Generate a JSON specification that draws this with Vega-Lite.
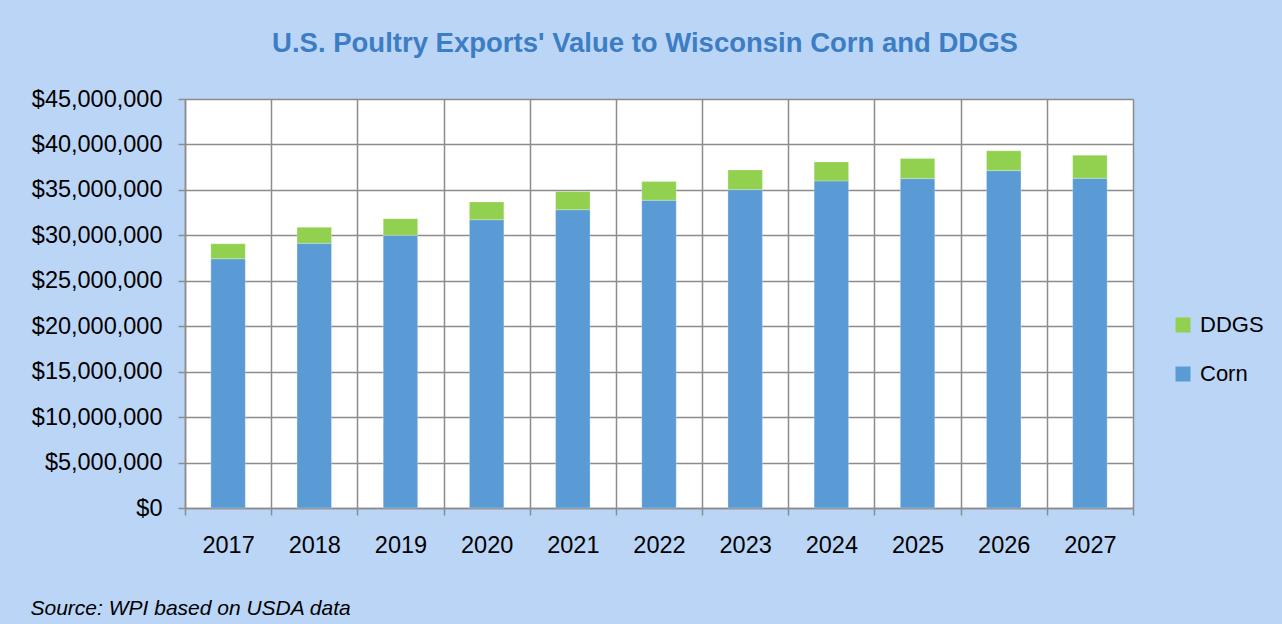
{
  "$schema": "https://vega.github.io/schema/vega-lite/v6.json",
  "autosize": {"type": "none"},
  "width": 948,
  "height": 409,
  "padding": {"left": 185, "top": 99, "right": 149, "bottom": 116},
  "background": "#bbd5f7",
  "title": {
    "text": "U.S. Poultry Exports' Value to Wisconsin Corn and DDGS",
    "font": "Liberation Sans",
    "fontSize": 27.5,
    "fontWeight": "bold",
    "color": "#3c7dc4",
    "anchor": "middle",
    "dx": -14,
    "offset": 30
  },
  "data": {
    "values": [
      {"year": "2017", "series": "Corn", "value": 27420000},
      {"year": "2017", "series": "DDGS", "value": 1650000},
      {"year": "2018", "series": "Corn", "value": 29120000},
      {"year": "2018", "series": "DDGS", "value": 1760000},
      {"year": "2019", "series": "Corn", "value": 30000000},
      {"year": "2019", "series": "DDGS", "value": 1830000},
      {"year": "2020", "series": "Corn", "value": 31720000},
      {"year": "2020", "series": "DDGS", "value": 1950000},
      {"year": "2021", "series": "Corn", "value": 32820000},
      {"year": "2021", "series": "DDGS", "value": 1990000},
      {"year": "2022", "series": "Corn", "value": 33860000},
      {"year": "2022", "series": "DDGS", "value": 2050000},
      {"year": "2023", "series": "Corn", "value": 35030000},
      {"year": "2023", "series": "DDGS", "value": 2170000},
      {"year": "2024", "series": "Corn", "value": 35990000},
      {"year": "2024", "series": "DDGS", "value": 2090000},
      {"year": "2025", "series": "Corn", "value": 36240000},
      {"year": "2025", "series": "DDGS", "value": 2210000},
      {"year": "2026", "series": "Corn", "value": 37120000},
      {"year": "2026", "series": "DDGS", "value": 2180000},
      {"year": "2027", "series": "Corn", "value": 36280000},
      {"year": "2027", "series": "DDGS", "value": 2540000}
    ]
  },
  "mark": {"type": "bar", "width": {"band": 0.4}, "stroke": "#ffffff", "strokeOpacity": 0.5, "strokeWidth": 0.5},
  "encoding": {
    "x": {
      "field": "year",
      "type": "ordinal",
      "scale": {"paddingInner": 0, "paddingOuter": 0},
      "axis": {
        "title": "Source: WPI based on USDA data",
        "titleFont": "Liberation Sans",
        "titleFontSize": 21,
        "titleFontStyle": "italic",
        "titleFontWeight": "normal",
        "titleColor": "#000000",
        "titleAnchor": "start",
        "titleAlign": "left",
        "titleX": -155,
        "titleY": 106,
        "titleBaseline": "alphabetic",
        "labelAngle": 0,
        "labelFont": "Liberation Sans",
        "labelFontSize": 23.5,
        "labelColor": "#000000",
        "labelPadding": 18,
        "tickBand": "extent",
        "ticks": true,
        "tickSize": 7,
        "tickColor": "#8c8c8c",
        "tickWidth": 1.5,
        "grid": true,
        "gridColor": "#8c8c8c",
        "gridWidth": 1.5,
        "domainColor": "#8c8c8c",
        "domainWidth": 1.5
      }
    },
    "y": {
      "field": "value",
      "type": "quantitative",
      "aggregate": "sum",
      "stack": "zero",
      "scale": {"domain": [0, 45000000], "nice": false},
      "axis": {
        "title": null,
        "values": [0, 5000000, 10000000, 15000000, 20000000, 25000000, 30000000, 35000000, 40000000, 45000000],
        "format": "$,.0f",
        "labelFont": "Liberation Sans",
        "labelFontSize": 23.5,
        "labelColor": "#000000",
        "labelPadding": 16,
        "tickSize": 7,
        "tickColor": "#8c8c8c",
        "tickWidth": 1.5,
        "grid": true,
        "gridColor": "#8c8c8c",
        "gridWidth": 1.5,
        "domainColor": "#8c8c8c",
        "domainWidth": 1.5
      }
    },
    "color": {
      "field": "series",
      "type": "nominal",
      "scale": {"domain": ["DDGS", "Corn"], "range": ["#92d050", "#5b9bd5"]},
      "legend": {
        "title": null,
        "orient": "none",
        "legendX": 987,
        "legendY": 215,
        "symbolType": "square",
        "symbolSize": 225,
        "symbolStrokeWidth": 0,
        "labelFont": "Liberation Sans",
        "labelFontSize": 22,
        "labelColor": "#000000",
        "labelOffset": 6,
        "rowPadding": 27
      }
    },
    "order": {"field": "series", "type": "nominal", "sort": "ascending"}
  },
  "config": {
    "view": {"fill": "#ffffff", "stroke": null}
  }
}
